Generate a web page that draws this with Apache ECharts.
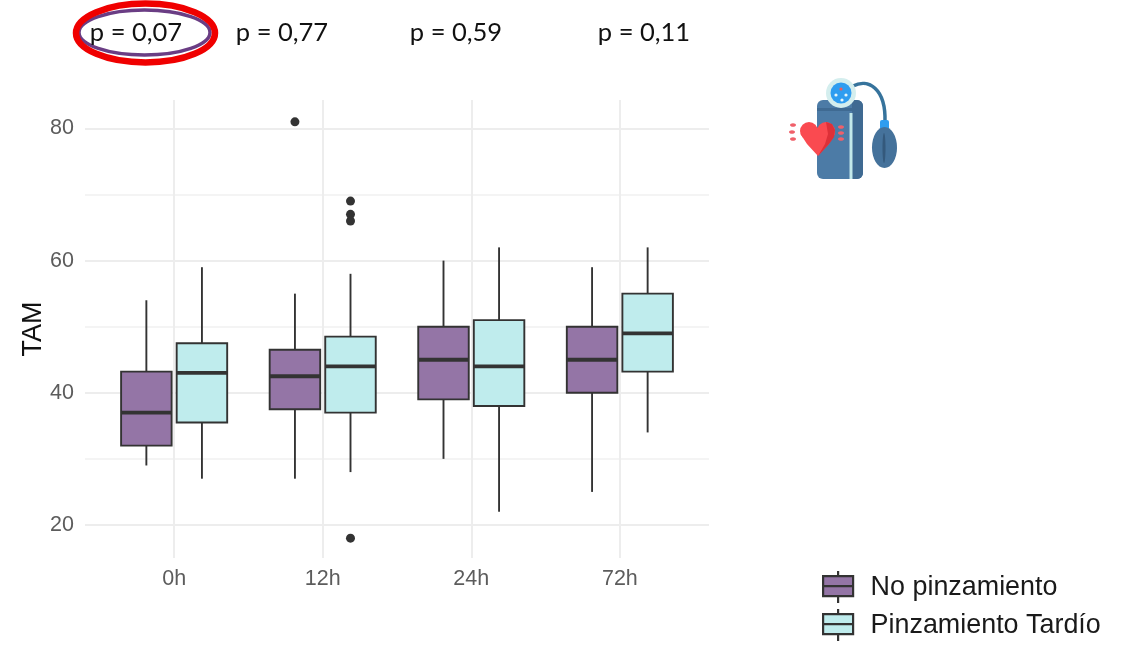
<!DOCTYPE html>
<html><head><meta charset="utf-8">
<style>html,body{margin:0;padding:0;background:#fff}#c{width:1127px;height:645px}</style>
<script src="https://cdn.jsdelivr.net/npm/echarts@6/dist/echarts.min.js"></script>
</head><body><div id="c"></div>
<script>
const categories = ['0h','12h','24h','72h'];
const seriesNames = ['No pinzamiento','Pinzamiento Tardío'];
// [low whisker, Q1, median, Q3, high whisker]
const noPinzamiento = [[29,32,37,43.2,54],[27,37.5,42.5,46.5,55],[30,39,45,50,60],[25,40,45,50,59]];
const pinzamientoTardio = [[27,35.5,43,47.5,59],[28,37,44,48.5,58],[22,38,44,51,62],[34,43.2,49,55,62]];
// [category index, value]
const outliersNo = [[1,81]];
const outliersTardio = [[1,69],[1,67],[1,66],[1,18]];
const pValues = ['p = 0,07','p = 0,77','p = 0,59','p = 0,11'];
const yTicks = [20,40,60,80];
const yMinor = [30,50,70];

const DODGE = 0.187, BOXW = 0.34;
const PURPLE = '#9475a6', AQUA = '#bfeced', DARK = '#333333';
const catIdx = categories.map((_,i)=>i);

function boxRender(off){
  return function(params, api){
    const x = api.value(0) + off;
    const p = v => api.coord([x, v]);
    const xl = api.coord([x - BOXW/2, 20])[0], xr = api.coord([x + BOXW/2, 20])[0], xc = p(20)[0];
    const yLow = p(api.value(1))[1], q1 = p(api.value(2))[1], med = p(api.value(3))[1], q3 = p(api.value(4))[1], yHigh = p(api.value(5))[1];
    const color = api.visual('color');
    return {type:'group', children:[
      {type:'line', shape:{x1:xc,y1:yHigh,x2:xc,y2:q3}, style:{stroke:DARK,lineWidth:1.9}},
      {type:'line', shape:{x1:xc,y1:q1,x2:xc,y2:yLow}, style:{stroke:DARK,lineWidth:1.9}},
      {type:'rect', shape:{x:xl,y:q3,width:xr-xl,height:q1-q3}, style:{fill:color,stroke:DARK,lineWidth:1.9}},
      {type:'line', shape:{x1:xl,y1:med,x2:xr,y2:med}, style:{stroke:DARK,lineWidth:3.8}}
    ]};
  };
}
function boxSeries(name, color, rows, off){
  return {type:'custom', name, xAxisIndex:0, yAxisIndex:0, clip:false,
    itemStyle:{color, borderColor:DARK},
    renderItem:boxRender(off),
    encode:{x:0,y:[1,2,3,4,5]},
    data:rows.map((r,i)=>[i,...r]), z:3};
}
function outlierSeries(rows, off){
  return {type:'scatter', symbol:'circle', symbolSize:9, itemStyle:{color:DARK,opacity:1},
    data:rows.map(r=>[r[0]+off,r[1]]), z:4, silent:true};
}
function legendFor(name, color, top){
  return {left:822,top,orient:'vertical',padding:0,itemWidth:31,itemHeight:32,
    textStyle:{fontSize:26.9,color:'#1a1a1a',fontFamily:'Liberation Sans',padding:[0,0,0,12]},
    selectedMode:false,
    data:[{name,icon:keyIcon,itemStyle:{color,borderColor:DARK,borderWidth:2.2}}]};
}
const keyIcon = 'path://M15 0V5M15 25V32M0 5H30V25H0ZM0 15H30';
const pX = [136,282,456,644];
const graphics = [];
pValues.forEach((t,i)=>graphics.push({type:'text', x:pX[i], y:33, z:10,
  style:{text:t, font:'25.5px Lato', fill:'#111', align:'center', verticalAlign:'middle'}}));
graphics.push(
  {type:'ellipse', shape:{cx:144.5,cy:32.5,rx:65.5,ry:22.5}, style:{fill:'none',stroke:'#6a3d84',lineWidth:3.5}, z:9},
  {type:'ellipse', shape:{cx:145.5,cy:33,rx:69.5,ry:29.5}, style:{fill:'none',stroke:'#f00000',lineWidth:6.5}, z:9},
  // blood pressure monitor icon
  {type:'bezierCurve', shape:{x1:853,y1:86,cpx1:868,cpy1:78,cpx2:886,cpy2:88,x2:885,y2:122}, style:{fill:'none',stroke:'#36739c',lineWidth:3.5}},
  {type:'rect', shape:{x:817,y:100,width:46,height:79,r:6}, style:{fill:'#4c7ba6'}},
  {type:'rect', shape:{x:852,y:100,width:11,height:79,r:[0,6,6,0]}, style:{fill:'#3f6a92'}},
  {type:'rect', shape:{x:817,y:108,width:46,height:3}, style:{fill:'#3f6a92'}},
  {type:'rect', shape:{x:849.5,y:113,width:3,height:66}, style:{fill:'#c3e9ea'}},
  {type:'circle', shape:{cx:841,cy:93,r:15}, style:{fill:'#d4eeee'}},
  {type:'circle', shape:{cx:841,cy:93,r:10.5}, style:{fill:'#2f9df0'}},
  {type:'circle', shape:{cx:841,cy:89,r:1.6}, style:{fill:'#f05a5a'}},
  {type:'circle', shape:{cx:836,cy:95,r:1.6}, style:{fill:'#e8f6fa'}},
  {type:'circle', shape:{cx:846,cy:95,r:1.6}, style:{fill:'#e8f6fa'}},
  {type:'circle', shape:{cx:842,cy:100,r:1.6}, style:{fill:'#e8f6fa'}},
  {type:'rect', shape:{x:880,y:120,width:9,height:10,r:2}, style:{fill:'#2f9df0'}},
  {type:'ellipse', shape:{cx:884.5,cy:147.5,rx:12.5,ry:20.5}, style:{fill:'#45729b'}},
  {type:'ellipse', shape:{cx:884,cy:148,rx:1.5,ry:15}, style:{fill:'#34597c'}},
  {type:'circle', shape:{cx:809,cy:131,r:9}, style:{fill:'#fa4a50'}},
  {type:'circle', shape:{cx:826,cy:131,r:9}, style:{fill:'#fa4a50'}},
  {type:'polygon', shape:{points:[[800.5,134],[807,126],[817.5,128],[828,126],[835,134],[829,144],[818,156],[807,144]]}, style:{fill:'#fa4a50'}},
  {type:'polygon', shape:{points:[[826,122],[832,124],[835,130],[834,137],[829,144],[818,156],[825,144],[828,134]]}, style:{fill:'#dd3038'}}
);
[[793,125],[792,132],[793,139],[841,127],[841,133],[841,139]].forEach(d=>graphics.push(
  {type:'ellipse', shape:{cx:d[0],cy:d[1],rx:3,ry:1.8}, style:{fill:'#f0606a'}}));

const chart = echarts.init(document.getElementById('c'));
chart.setOption({
  animation:false, backgroundColor:'#fff',
  grid:{left:85,right:418,top:100,bottom:87},
  xAxis:{type:'value',min:-0.6,max:3.6,
    axisLine:{show:false},
    axisTick:{show:false,customValues:catIdx},
    axisLabel:{customValues:catIdx,fontSize:21.5,color:'#5c5c5c',fontFamily:'Liberation Sans',margin:10,formatter:v=>categories[v]},
    splitLine:{show:true,customValues:catIdx,lineStyle:{color:'#ededed',width:2}}},
  yAxis:[{type:'value',min:15,max:84.3,name:'TAM',nameLocation:'middle',nameGap:38,nameMoveOverlap:false,
    nameTextStyle:{fontSize:27,color:'#111',fontFamily:'Liberation Sans'},
    axisLine:{show:false},
    axisTick:{show:false,customValues:yTicks},
    axisLabel:{customValues:yTicks,fontSize:21.5,color:'#5c5c5c',fontFamily:'Liberation Sans',margin:11},
    splitLine:{show:true,customValues:yTicks,lineStyle:{color:'#ededed',width:2}}},
   {type:'value',min:15,max:84.3,position:'left',
    axisLine:{show:false},axisTick:{show:false,customValues:yMinor},axisLabel:{show:false,customValues:yMinor},
    splitLine:{show:true,customValues:yMinor,lineStyle:{color:'#f0f0f0',width:1.5}}}],
  legend:[legendFor(seriesNames[0],PURPLE,570),legendFor(seriesNames[1],AQUA,608)],
  series:[
    boxSeries(seriesNames[0],PURPLE,noPinzamiento,-DODGE),
    boxSeries(seriesNames[1],AQUA,pinzamientoTardio,DODGE),
    outlierSeries(outliersNo,-DODGE),
    outlierSeries(outliersTardio,DODGE)],
  graphic:graphics
});
</script></body></html>
